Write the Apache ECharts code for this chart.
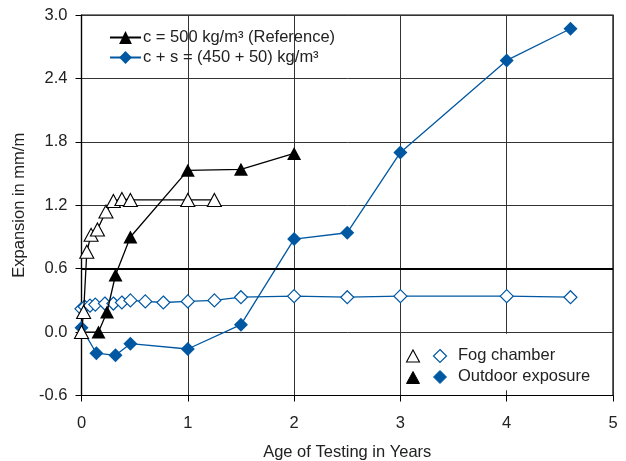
<!DOCTYPE html>
<html>
<head>
<meta charset="utf-8">
<script src="https://cdn.jsdelivr.net/npm/echarts@6/dist/echarts.min.js"></script>
<style>html,body{margin:0;padding:0;background:#fff;}#c{width:626px;height:461px;}</style>
</head>
<body>
<div id="c"></div>
<script>
// Data
var xTicks = [0, 1, 2, 3, 4, 5];
var yTicks = [-0.6, 0.0, 0.6, 1.2, 1.8, 2.4, 3.0];

// c = 500 kg/m³, fog chamber (open triangles)
var refFogX = [0, 0.02, 0.05, 0.09, 0.15, 0.23, 0.30, 0.38, 0.46, 1.0, 1.25];
var refFogY = [0, 0.19, 0.76, 0.92, 0.97, 1.14, 1.24, 1.26, 1.25, 1.25, 1.25];
// c = 500 kg/m³, outdoor exposure (filled triangles)
var refOutX = [0, 0.16, 0.24, 0.32, 0.46, 1.0, 1.5, 2.0];
var refOutY = [0, 0.0, 0.19, 0.54, 0.90, 1.53, 1.54, 1.69];
// c + s, fog chamber (open diamonds)
var slgFogX = [0, 0.03, 0.08, 0.13, 0.22, 0.30, 0.38, 0.46, 0.60, 0.77, 1.0, 1.25, 1.5, 2.0, 2.5, 3.0, 4.0, 4.6];
var slgFogY = [0.22, 0.24, 0.25, 0.26, 0.27, 0.27, 0.28, 0.30, 0.29, 0.28, 0.29, 0.30, 0.33, 0.34, 0.33, 0.34, 0.34, 0.33];
// c + s, outdoor exposure (filled diamonds)
var slgOutX = [0, 0.14, 0.32, 0.46, 1.0, 1.5, 2.0, 2.5, 3.0, 4.0, 4.6];
var slgOutY = [0.04, -0.20, -0.22, -0.11, -0.16, 0.07, 0.88, 0.94, 1.70, 2.57, 2.87];

var legendNames = ['c = 500 kg/m\u00B3 (Reference)', 'c + s = (450 + 50) kg/m\u00B3'];
var legend2Names = ['Fog chamber', 'Outdoor exposure'];

var BLUE = '#0058A3';
var FONT = '"Liberation Sans", Arial, sans-serif';
var FS = 16.5;

function zip(xs, ys) { return xs.map(function (x, i) { return [x, ys[i]]; }); }

var chart = echarts.init(document.getElementById('c'), null, { renderer: 'canvas' });

var option = {
  animation: false,
  textStyle: { fontFamily: FONT },
  grid: { left: 81.5, right: 13, top: 15, bottom: 65.5, containLabel: false, outerBoundsMode: 'none',
    show: true, borderColor: '#000', borderWidth: 1.2, backgroundColor: 'transparent' },
  xAxis: {
    type: 'value', min: xTicks[0], max: xTicks[xTicks.length - 1], interval: 1,
    name: 'Age of Testing in Years', nameLocation: 'middle', nameGap: 48,
    nameTextStyle: { fontSize: FS, color: '#222', fontFamily: FONT },
    axisLine: { show: true, onZero: false, lineStyle: { color: '#000', width: 1.2 } },
    axisTick: { show: true, length: 6, lineStyle: { color: '#000' } },
    axisLabel: { fontSize: FS, color: '#222', margin: 19, fontFamily: FONT },
    splitLine: { show: true, lineStyle: { color: '#333', width: 1 } }
  },
  yAxis: {
    type: 'value', min: yTicks[0], max: yTicks[yTicks.length - 1], interval: 0.6,
    name: 'Expansion in mm/m', nameLocation: 'middle', nameGap: 44,
    nameTextStyle: { fontSize: FS, color: '#222', fontFamily: FONT },
    axisLine: { show: true, onZero: false, lineStyle: { color: '#000', width: 1.2 } },
    axisTick: { show: true, length: 6, lineStyle: { color: '#000' } },
    axisLabel: { fontSize: FS, color: '#222', margin: 14, fontFamily: FONT,
      formatter: function (v) { return (Math.round(v * 10) / 10).toFixed(1); } },
    splitLine: { show: true, lineStyle: { color: '#333', width: 1 } }
  },
  legend: {
    data: legendNames, orient: 'vertical', left: 104, top: 24,
    itemWidth: 31, itemHeight: 16, itemGap: 3,
    textStyle: { fontSize: FS, color: '#222', fontFamily: FONT, padding: [0, 0, 0, -3] },
    selectedMode: false
  },
  series: [
    { name: legendNames[0], type: 'line', data: [], symbol: 'triangle', symbolSize: [14, 13],
      itemStyle: { color: '#000' }, lineStyle: { color: '#000', width: 1.3 } },
    { name: legendNames[1], type: 'line', data: [], symbol: 'diamond', symbolSize: 13,
      itemStyle: { color: BLUE }, lineStyle: { color: BLUE, width: 1.3 } },
    { name: 'slgFog', type: 'line', data: zip(slgFogX, slgFogY), symbol: 'diamond', symbolSize: 13,
      itemStyle: { color: '#fff', borderColor: BLUE, borderWidth: 1.2 }, lineStyle: { color: BLUE, width: 1.3 },
      z: 3,
      markLine: { silent: true, symbol: 'none', label: { show: false },
        lineStyle: { color: '#000', width: 2, type: 'solid' }, data: [{ yAxis: yTicks[2] }] } },
    { name: 'slgOut', type: 'line', data: zip(slgOutX, slgOutY), symbol: 'diamond', symbolSize: 14,
      itemStyle: { color: BLUE }, lineStyle: { color: BLUE, width: 1.3 }, z: 4 },
    { name: 'refOut', type: 'line', data: zip(refOutX, refOutY), symbol: 'triangle', symbolSize: [14, 13],
      itemStyle: { color: '#000' }, lineStyle: { color: '#000', width: 1.3 }, z: 5 },
    { name: 'refFog', type: 'line', data: zip(refFogX, refFogY), symbol: 'triangle', symbolSize: [14, 13],
      itemStyle: { color: '#fff', borderColor: '#000', borderWidth: 1.1 }, lineStyle: { color: '#000', width: 1.3 }, z: 6 }
  ],
  graphic: [
    { type: 'rect', z: 100, shape: { x: 401, y: 333.8, width: 211, height: 56.5 }, style: { fill: '#fff' } },
    { type: 'polygon', z: 101, shape: { points: [[406.5, 362], [413, 350], [419.5, 362]] }, style: { fill: '#fff', stroke: '#000', lineWidth: 1.1 } },
    { type: 'polygon', z: 101, shape: { points: [[406.5, 383.5], [413, 371.5], [419.5, 383.5]] }, style: { fill: '#000', stroke: '#000', lineWidth: 1 } },
    { type: 'polygon', z: 101, shape: { points: [[440, 349.5], [446.5, 356], [440, 362.5], [433.5, 356]] }, style: { fill: '#fff', stroke: BLUE, lineWidth: 1.2 } },
    { type: 'polygon', z: 101, shape: { points: [[440, 370.5], [446.5, 377], [440, 383.5], [433.5, 377]] }, style: { fill: BLUE, stroke: BLUE, lineWidth: 1 } },
    { type: 'text', z: 101, x: 458, y: 355.5, style: { text: legend2Names[0], font: FS + 'px ' + FONT, fill: '#222', verticalAlign: 'middle' } },
    { type: 'text', z: 101, x: 458, y: 376.5, style: { text: legend2Names[1], font: FS + 'px ' + FONT, fill: '#222', verticalAlign: 'middle' } }
  ]
};
chart.setOption(option);
</script>
</body>
</html>
